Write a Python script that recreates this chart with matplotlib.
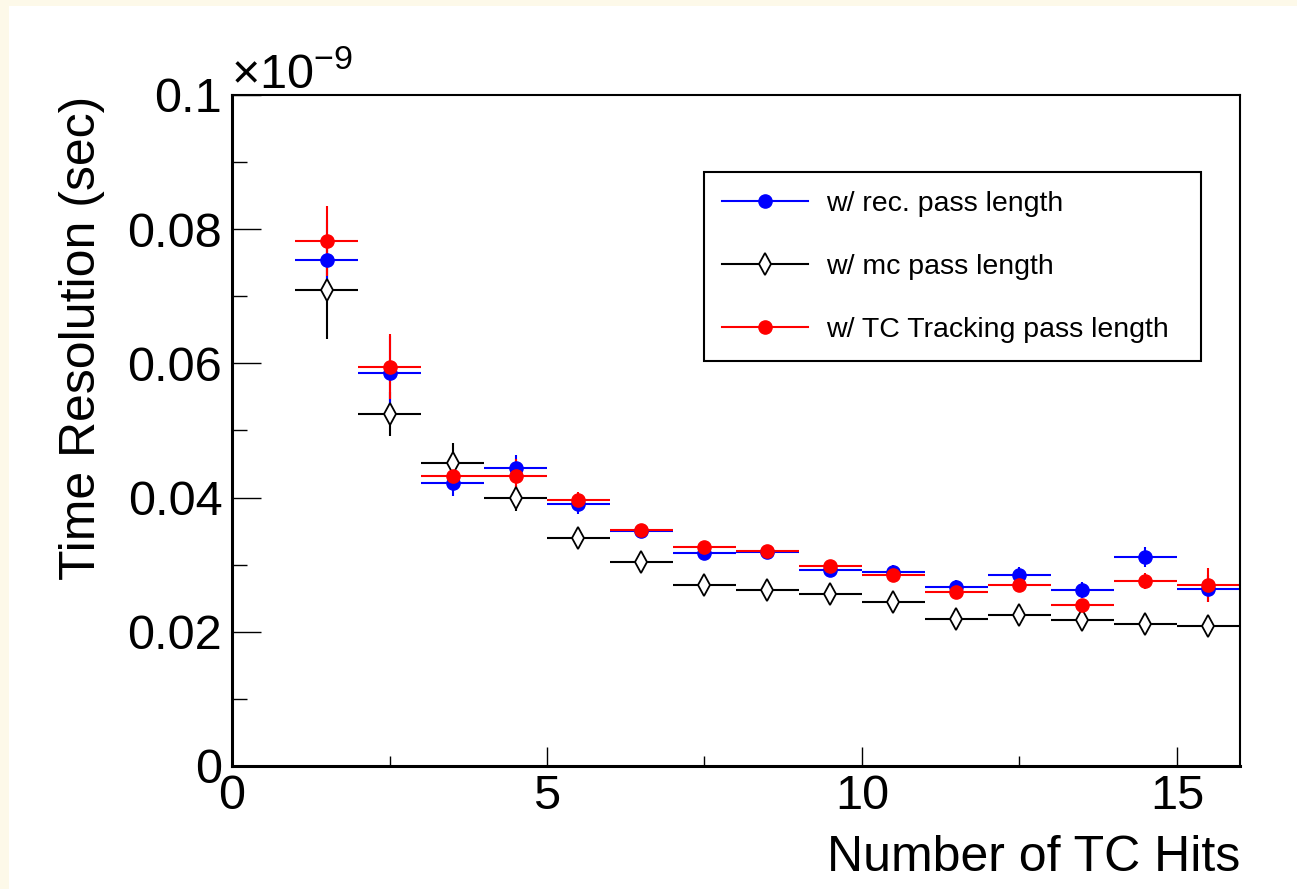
import matplotlib
matplotlib.use("Agg")
import matplotlib.pyplot as plt
from matplotlib.patches import Rectangle
from matplotlib.lines import Line2D
from matplotlib.ticker import MultipleLocator, FixedLocator, FixedFormatter


# =========================
# DATA (values shown in units of 1e-9 sec)
# =========================
n_hits = [1.5, 2.5, 3.5, 4.5, 5.5, 6.5, 7.5, 8.5, 9.5, 10.5, 11.5, 12.5, 13.5, 14.5, 15.5]
bin_half = [0.5] * len(n_hits)

res_rec = [0.0754, 0.0586, 0.0422, 0.0444, 0.0390, 0.0350, 0.0317, 0.0319,
           0.0292, 0.0289, 0.0267, 0.0285, 0.0262, 0.0311, 0.0264]
err_rec = [0.0060, 0.0055, 0.0020, 0.0020, 0.0015, 0.0010, 0.0010, 0.0010,
           0.0010, 0.0010, 0.0010, 0.0012, 0.0012, 0.0015, 0.0020]

res_mc = [0.0709, 0.0525, 0.0452, 0.0399, 0.0340, 0.0304, 0.0270, 0.0262,
          0.0256, 0.0244, 0.0219, 0.0225, 0.0218, 0.0212, 0.0209]
err_mc = [0.0073, 0.0033, 0.0030, 0.0019, 0.0012, 0.0010, 0.0010, 0.0010,
          0.0010, 0.0010, 0.0012, 0.0012, 0.0012, 0.0012, 0.0016]

res_tc = [0.0782, 0.0595, 0.0432, 0.0432, 0.0396, 0.0352, 0.0326, 0.0320,
          0.0298, 0.0285, 0.0259, 0.0270, 0.0240, 0.0276, 0.0270]
err_tc = [0.0052, 0.0048, 0.0015, 0.0025, 0.0012, 0.0008, 0.0008, 0.0008,
          0.0008, 0.0008, 0.0008, 0.0008, 0.0008, 0.0012, 0.0025]

y_ticks = [0, 0.02, 0.04, 0.06, 0.08, 0.1]
y_tick_labels = ['0', '0.02', '0.04', '0.06', '0.08', '0.1']

labels = ['w/ rec. pass length', 'w/ mc pass length', 'w/ TC Tracking pass length']


# =========================
# PLOT
# =========================
plt.rcParams['font.family'] = ['Liberation Sans', 'DejaVu Sans']
plt.rcParams['mathtext.fontset'] = 'custom'
plt.rcParams['mathtext.rm'] = 'Liberation Sans'
plt.rcParams['mathtext.it'] = 'Liberation Sans:italic'

fig = plt.figure(figsize=(12.97, 8.89), dpi=100, facecolor='white')
ax = fig.add_axes([0.1789, 0.1384, 0.7771, 0.7548])

# cream strips along top / left edge
fig.add_artist(Rectangle((0, 1 - 6 / 889), 1, 6 / 889, transform=fig.transFigure,
                         facecolor='#fdf9e9', edgecolor='none', zorder=-1))
fig.add_artist(Rectangle((0, 0), 9 / 1297, 1, transform=fig.transFigure,
                         facecolor='#fdf9e9', edgecolor='none', zorder=-1))

# black first, then blue, red on top
ax.errorbar(n_hits, res_mc, xerr=bin_half, yerr=err_mc, fmt='d',
            color='black', ecolor='black', elinewidth=1.5,
            markersize=11, markerfacecolor='white',
            markeredgecolor='black', markeredgewidth=1.3, capsize=0)
ax.errorbar(n_hits, res_rec, xerr=bin_half, yerr=err_rec, fmt='o',
            color='#0000ff', ecolor='#0000ff', elinewidth=1.5,
            markersize=9.5, capsize=0)
ax.errorbar(n_hits, res_tc, xerr=bin_half, yerr=err_tc, fmt='o',
            color='#ff0000', ecolor='#ff0000', elinewidth=1.5,
            markersize=9.5, capsize=0)

ax.set_xlim(0, 16)
ax.set_ylim(0, 0.1)

ax.xaxis.set_major_locator(MultipleLocator(5))
ax.xaxis.set_minor_locator(MultipleLocator(2.5))
ax.yaxis.set_major_locator(FixedLocator(y_ticks))
ax.yaxis.set_major_formatter(FixedFormatter(y_tick_labels))
ax.yaxis.set_minor_locator(MultipleLocator(0.01))

ax.tick_params(axis='both', which='both', direction='in', labelsize=35,
               top=False, right=False, width=1.0, color='black')
ax.tick_params(axis='y', which='major', length=21, pad=7)
ax.tick_params(axis='y', which='minor', length=11)
ax.tick_params(axis='x', which='major', length=14, pad=6)
ax.tick_params(axis='x', which='minor', length=7)

for side in ['left', 'bottom']:
    ax.spines[side].set_linewidth(2.2)
for side in ['top', 'right']:
    ax.spines[side].set_linewidth(1.5)

fig.text(231 / 1297, 1 - 88 / 889, r'$\times10^{-9}$', fontsize=35,
         ha='left', va='baseline')

fig.text(82 / 1297, 1 - 96 / 889, 'Time Resolution (sec)', fontsize=36,
         rotation=90, ha='center', va='top')
fig.text(1240 / 1297, 1 - 871 / 889, 'Number of TC Hits', fontsize=36,
         ha='right', va='baseline')

# legend: line with marker in the middle (ROOT style)
handles = [
    Line2D([], [], color='#0000ff', lw=1.5, marker='o', markersize=9.5),
    Line2D([], [], color='black', lw=1.5, marker='d', markersize=11,
           markerfacecolor='white', markeredgewidth=1.3),
    Line2D([], [], color='#ff0000', lw=1.5, marker='o', markersize=9.5),
]
leg = ax.legend(handles=handles, labels=labels,
                loc='upper left', bbox_to_anchor=(0.468, 0.607, 0.493, 0.278),
                mode='expand', fontsize=20.5, frameon=True, fancybox=False,
                edgecolor='black', framealpha=1, borderpad=0.65,
                labelspacing=1.3, handlelength=3.0, handletextpad=0.65,
                borderaxespad=0)
leg.get_frame().set_linewidth(1.5)

fig.savefig('out.png', dpi=100, facecolor=fig.get_facecolor())
